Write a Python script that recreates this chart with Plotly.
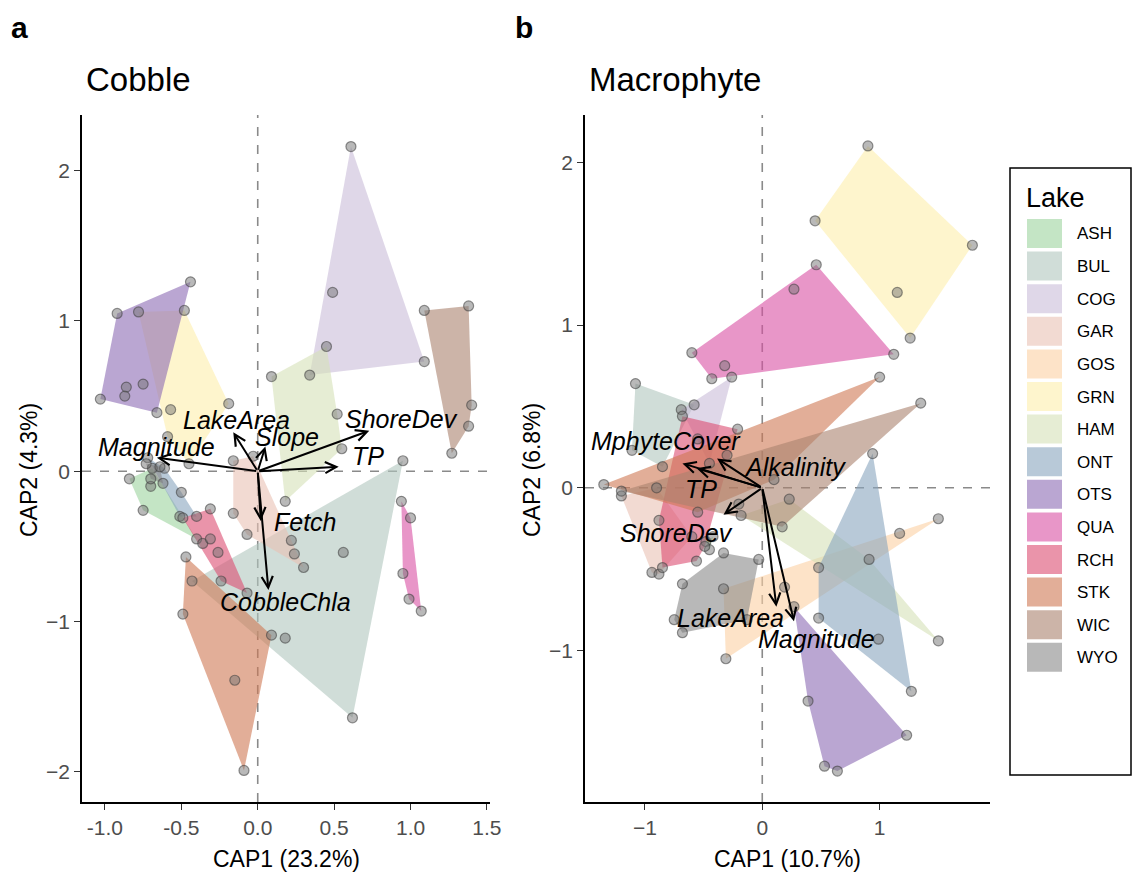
import plotly.graph_objects as go

# ---------------- data ----------------
LAKES = ["ASH", "BUL", "COG", "GAR", "GOS", "GRN", "HAM", "ONT", "OTS", "QUA", "RCH", "STK", "WIC", "WYO"]
LAKE_COLORS = ["#c4e5c5", "#d0ddd8", "#dfd7e8", "#f2dad2", "#fde3c8", "#fef5cd", "#e6edd4",
               "#b8c9d8", "#baa6d2", "#e896c8", "#ea94aa", "#e2ae98", "#ccb4a8", "#b8b8b8"]

# Cobble CAP site scores (CAP1, CAP2) per lake
cobble_points = {
    "ASH": [(-0.84, -0.05), (-0.69, 0.02), (-0.40, -0.45), (-0.75, -0.26), (-0.70, -0.10)],
    "BUL": [(0.95, 0.07), (0.56, -0.54), (0.62, -1.64), (0.18, -1.11), (-0.43, -0.73), (0.22, -0.46)],
    "COG": [(0.61, 2.16), (0.49, 1.19), (1.09, 0.73), (0.34, 0.64)],
    "GAR": [(-0.16, 0.07), (-0.03, 0.10), (0.30, -0.64), (0.24, -0.55), (-0.07, -0.42), (-0.16, -0.28)],
    "GRN": [(-0.78, 1.06), (-0.48, 1.07), (-0.19, 0.45), (-0.57, 0.41), (-0.59, 0.23), (-0.45, 0.05)],
    "HAM": [(0.09, 0.63), (0.45, 0.83), (0.52, 0.38), (0.55, 0.15), (0.18, -0.20)],
    "ONT": [(-0.72, 0.09), (-0.61, 0.02), (-0.50, -0.14), (-0.40, -0.30), (-0.51, -0.30)],
    "OTS": [(-1.03, 0.48), (-0.92, 1.05), (-0.44, 1.26), (-0.66, 0.39), (-0.86, 0.56), (-0.87, 0.50), (-0.75, 0.58)],
    "QUA": [(0.94, -0.20), (1.00, -0.31), (0.95, -0.68), (0.99, -0.85), (1.07, -0.93)],
    "RCH": [(-0.49, -0.31), (-0.31, -0.25), (-0.07, -0.81), (-0.24, -0.73), (-0.36, -0.48), (-0.31, -0.45), (-0.26, -0.54)],
    "STK": [(-0.47, -0.57), (0.09, -1.09), (-0.09, -1.99), (-0.49, -0.95), (-0.15, -1.39)],
    "WIC": [(1.09, 1.07), (1.38, 1.10), (1.40, 0.44), (1.38, 0.30), (1.27, 0.12)],
    "WYO": [(-0.73, 0.05), (-0.64, 0.03), (-0.62, -0.08), (-0.70, -0.05)],
}

# Macrophyte CAP site scores (CAP1, CAP2) per lake
macro_points = {
    "ASH": [(-0.48, -0.33), (-0.42, -0.30), (-0.45, -0.38)],
    "BUL": [(-1.08, 0.64), (-0.58, 0.51), (-0.85, 0.13), (-1.11, 0.23)],
    "COG": [(-0.26, 0.68), (-0.69, 0.48), (-0.45, 0.15), (-0.55, 0.30)],
    "GAR": [(-1.20, -0.05), (-0.94, -0.52), (-0.88, -0.53), (-0.60, -0.30), (-0.90, 0.00)],
    "GOS": [(1.50, -0.19), (1.17, -0.28), (-0.31, -1.05), (-0.33, -0.62), (0.19, -0.61)],
    "GRN": [(0.90, 2.10), (0.45, 1.64), (1.79, 1.49), (1.26, 0.92), (1.15, 1.20)],
    "HAM": [(1.50, -0.94), (0.23, -0.07), (-0.18, -0.17), (0.91, -0.44)],
    "ONT": [(0.94, 0.21), (1.27, -1.25), (0.48, -0.80), (0.48, -0.49), (0.99, -0.93)],
    "OTS": [(0.27, -0.73), (1.23, -1.52), (0.64, -1.74), (0.53, -1.71), (0.39, -1.31)],
    "QUA": [(-0.60, 0.83), (0.46, 1.37), (1.12, 0.82), (-0.43, 0.67), (0.27, 1.22), (-0.32, 0.75)],
    "RCH": [(-0.68, 0.44), (-0.21, 0.36), (-0.49, -0.36), (-0.56, -0.45), (-0.85, -0.49), (-0.88, -0.20)],
    "STK": [(-1.35, 0.02), (1.00, 0.68), (-0.30, 0.20), (0.10, 0.05), (-0.55, -0.15)],
    "WIC": [(-1.20, -0.02), (1.35, 0.52), (0.17, -0.24), (-0.20, -0.10)],
    "WYO": [(-0.33, -0.40), (-0.68, -0.59), (-0.75, -0.81), (-0.68, -0.89), (-0.13, -0.81), (-0.03, -0.44)],
}

# Environmental vectors
cobble_vars = ["Magnitude", "LakeArea", "Slope", "ShoreDev", "TP", "Fetch", "CobbleChla"]
cobble_vx = [-0.66, -0.16, 0.05, 0.73, 0.53, 0.02, 0.07]
cobble_vy = [0.09, 0.26, 0.165, 0.27, 0.03, -0.33, -0.79]
cobble_lx = [-0.66, -0.14, 0.19, 0.94, 0.72, 0.31, 0.18]
cobble_ly = [0.16, 0.34, 0.23, 0.35, 0.10, -0.34, -0.87]

macro_vars = ["MphyteCover", "TP", "Alkalinity", "ShoreDev", "LakeArea", "Magnitude"]
macro_vx = [-0.68, -0.56, -0.385, -0.33, 0.12, 0.27]
macro_vy = [0.15, 0.12, 0.18, -0.165, -0.73, -0.82]
macro_lx = [-0.82, -0.52, 0.28, -0.73, -0.27, 0.46]
macro_ly = [0.29, -0.01, 0.13, -0.28, -0.80, -0.93]

# ---------------- helpers ----------------
FONT = "Arial, Liberation Sans, sans-serif"
ALPHA = 0.6
W, H = 1136, 879          # target picture size (positions below are in these pixels)
LAYOUT_W = 1148           # layout width (compensates for horizontal squeeze seen in render)


def hull(pts):
    p = sorted(set(pts))
    if len(p) <= 2:
        return p

    def cross(o, a, b):
        return (a[0] - o[0]) * (b[1] - o[1]) - (a[1] - o[1]) * (b[0] - o[0])
    lower, upper = [], []
    for q in p:
        while len(lower) >= 2 and cross(lower[-2], lower[-1], q) <= 0:
            lower.pop()
        lower.append(q)
    for q in reversed(p):
        while len(upper) >= 2 and cross(upper[-2], upper[-1], q) <= 0:
            upper.pop()
        upper.append(q)
    return lower[:-1] + upper[:-1]


def fill_rgba(hexc):
    c = [int(hexc[i:i + 2], 16) for i in (1, 3, 5)]
    b = [max(0, min(255, round((v - (1 - ALPHA) * 255) / ALPHA))) for v in c]
    return f"rgba({b[0]},{b[1]},{b[2]},{ALPHA})"


def px(x):
    return x / W


def py(y):
    return 1 - y / H


def paper_text(x, y, text, size, xanchor="center", angle=0, bold=False):
    t = f"<b>{text}</b>" if bold else text
    return dict(x=px(x), y=py(y), xref="paper", yref="paper", text=t, showarrow=False,
                xanchor=xanchor, yanchor="middle", textangle=angle,
                font=dict(family=FONT, size=size, color="black"))


fig = go.Figure()

for pts_dict, xa, ya in [(cobble_points, "x", "y"), (macro_points, "x2", "y2")]:
    for lake, col in zip(LAKES, LAKE_COLORS):
        if lake not in pts_dict:
            continue
        h = hull(pts_dict[lake])
        fig.add_trace(go.Scatter(
            x=[q[0] for q in h] + [h[0][0]], y=[q[1] for q in h] + [h[0][1]],
            mode="lines", fill="toself", fillcolor=fill_rgba(col),
            line=dict(width=0, color="rgba(0,0,0,0)"), xaxis=xa, yaxis=ya,
            showlegend=False, hoverinfo="skip"))
    allx = [q[0] for lake in LAKES if lake in pts_dict for q in pts_dict[lake]]
    ally = [q[1] for lake in LAKES if lake in pts_dict for q in pts_dict[lake]]
    fig.add_trace(go.Scatter(
        x=allx, y=ally, mode="markers", xaxis=xa, yaxis=ya, showlegend=False,
        marker=dict(size=10, color="rgba(115,115,115,0.5)",
                    line=dict(width=1.2, color="rgba(60,60,60,0.55)"))))

annotations = []
shapes = []

for names, vx, vy, lx, ly, xr, yr in [
        (cobble_vars, cobble_vx, cobble_vy, cobble_lx, cobble_ly, "x", "y"),
        (macro_vars, macro_vx, macro_vy, macro_lx, macro_ly, "x2", "y2")]:
    for n, a, b, c, d in zip(names, vx, vy, lx, ly):
        annotations.append(dict(x=a, y=b, ax=0, ay=0, xref=xr, yref=yr, axref=xr, ayref=yr,
                                text="", showarrow=True, arrowhead=5, arrowsize=1.1,
                                arrowwidth=2, arrowcolor="black", standoff=0, startstandoff=0))
        annotations.append(dict(x=c, y=d, xref=xr, yref=yr, text=f"<i>{n}</i>", showarrow=False,
                                xanchor="center", yanchor="middle",
                                font=dict(family=FONT, size=25, color="black")))
    # dashed zero lines
    shapes.append(dict(type="line", xref=xr, yref=f"{yr} domain", x0=0, x1=0, y0=0, y1=1,
                       line=dict(color="#8a8a8a", width=1.6, dash="dash"), layer="below"))
    shapes.append(dict(type="line", xref=f"{xr} domain", yref=yr, x0=0, x1=1, y0=0, y1=0,
                       line=dict(color="#8a8a8a", width=1.6, dash="dash"), layer="below"))

# panel tags, titles and axis titles
annotations += [
    paper_text(9, 28, "a", 30, xanchor="left", bold=True),
    paper_text(513, 28, "b", 30, xanchor="left", bold=True),
    paper_text(84, 80, "Cobble", 33, xanchor="left"),
    paper_text(587, 80, "Macrophyte", 33, xanchor="left"),
    paper_text(286, 859, "CAP1 (23.2%)", 23),
    paper_text(787, 859, "CAP1 (10.7%)", 23),
    paper_text(29, 470, "CAP2 (4.3%)", 23, angle=-90),
    paper_text(532, 470, "CAP2 (6.8%)", 23, angle=-90),
]

# legend (drawn manually with large keys)
shapes.append(dict(type="rect", xref="paper", yref="paper", x0=px(1010), x1=px(1131),
                   y0=py(775), y1=py(168), line=dict(color="black", width=1.5), fillcolor="white"))
annotations.append(paper_text(1024, 198, "Lake", 27, xanchor="left"))
for i, (lake, col) in enumerate(zip(LAKES, LAKE_COLORS)):
    top = 219 + i * 32.6
    shapes.append(dict(type="rect", xref="paper", yref="paper", x0=px(1027), x1=px(1062),
                       y0=py(top + 29), y1=py(top), line=dict(width=0), fillcolor=col))
    annotations.append(paper_text(1075, top + 15, lake, 17, xanchor="left"))

axis_common = dict(showgrid=False, zeroline=False, showline=True, linecolor="black",
                   linewidth=1.6, ticks="outside", ticklen=6, tickwidth=1.4, tickcolor="#333333",
                   tickfont=dict(family=FONT, size=21, color="#4d4d4d"), mirror=False)

fig.update_layout(
    width=LAYOUT_W, height=H, autosize=False, margin=dict(l=0, r=0, t=0, b=0),
    paper_bgcolor="white", plot_bgcolor="rgba(0,0,0,0)", showlegend=False,
    xaxis=dict(domain=[px(82), px(490)], range=[-1.15, 1.52], anchor="y",
               tickvals=[-1.0, -0.5, 0.0, 0.5, 1.0, 1.5],
               ticktext=["-1.0", "-0.5", "0.0", "0.5", "1.0", "1.5"], **axis_common),
    yaxis=dict(domain=[py(802), py(115)], range=[-2.20, 2.37], anchor="x",
               tickvals=[-2, -1, 0, 1, 2], **axis_common),
    xaxis2=dict(domain=[px(585), px(990)], range=[-1.51, 1.94], anchor="y2",
                tickvals=[-1, 0, 1], **axis_common),
    yaxis2=dict(domain=[py(802), py(115)], range=[-1.93, 2.29], anchor="x2",
                tickvals=[-1, 0, 1, 2], **axis_common),
    annotations=annotations, shapes=shapes,
)

POST = ("document.documentElement.style.overflow='hidden';"
        "document.body.style.margin='0px';document.body.style.overflow='hidden';")

fig.write_html("out.html", config={"displayModeBar": False, "responsive": False},
               post_script=POST)
